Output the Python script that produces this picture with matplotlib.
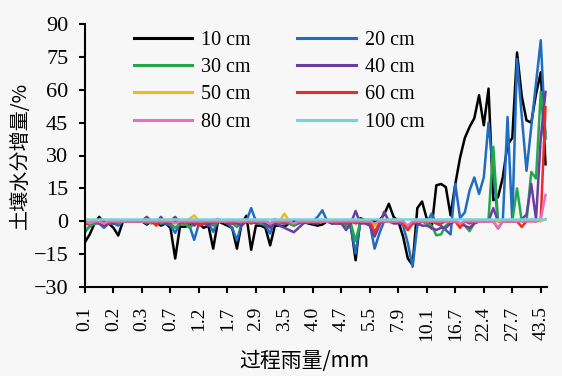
import matplotlib
matplotlib.use("Agg")
import matplotlib.pyplot as plt
import numpy as np

# ---------------- data ----------------
tick_labels = ["0.1", "0.2", "0.3", "0.7", "1.2", "1.7", "2.9", "3.5", "4.0",
               "4.7", "5.5", "7.9", "10.1", "16.7", "22.4", "27.7", "43.5"]

s10 = [-9.5, -6, -1, 2, -1, -1, -3, -6.5, 0, 0,
       0, 0, 0, -1.5, 0, -0.5, -2, -1, -3, -17,
       -2.5, -2.5, -2, -1, -1, -3, -2, -12.5, 0, -1,
       -2, -3, -12.5, -1, 2.5, -13, -2, -2, -3, -11,
       -2, -2, -2.5, -1, 0, -0.5, 0, -1, -1.5, -2,
       -1.5, 0, 0, -0.5, -1, -2, -2, -17.8, 1.4, 0.5,
       0, 0, 0.5, 3, 8, 2, 0, -7, -17, -20,
       6, 9, 1, -3.3, 16.4, 17, 15.6, 2.7, 17, 29,
       38, 43, 47, 57.5, 43.8, 60.5, 9.6, 11, 20, 35,
       38, 77, 57, 46, 45, 58, 68, 26]

s20 = [-5, -2, -1, -1, -3, -1, -1, -2, 0, 0,
       0, 0, 0, -1, 0, 0, -1, -1, -2, -5.3,
       -1, -1, -2, -8.5, -1, 0, -1, -4.8, 0, 0,
       -1, -3, -8.7, -1, 0, 6, 0, -1, -2, -5.6,
       1, -1, -1, -1, -2, -1, 0, -1, 0, 2,
       5, 0, -1, -1, -1, -2, -3, -14.7, 0, 0,
       -1, -12.5, -5.6, 0, 0, 1, 0, -2, -10, -20.8,
       -2, 0, -1, 3.5, -1, -2, -4, -6, 17, 1.5,
       4, 14, 20, 12.5, 20, 45, 22, 0, 0, 47.6,
       0, 74, 48, 23, 43, 63, 82.6, 37.7]

s30 = [-4, -2.5, -1, 0, -1, -1, 0, -1, 0, 0,
       0, 0, 0, 0, -1, 0, -1, 0, -1, -3,
       -1, -1, -3, -1, 0, -1, 0, -2, 0, 0,
       -1, -1, -2.6, 0, 0, -1, 0, -1, -1, -2,
       0, -1, 0, -1, -2, 0, 0, 0, 0, 0,
       0, 0, -1, 0, -1, -2, -1, -9, 0, 0,
       0, -2, 0, 0, 0, 0, 0, -1, -2, -1,
       0, 0, -1, -2, -6.4, -6, -2, 0, 0, -1,
       -2, -4.5, -1, 0, 0, 1, 34, 0, 0, 0,
       0, 15, 0, 0, 22.5, 19.5, 59, 40]

s40 = [-1.4, -1, 0, -1, -2, -1, -1, 0, 0, 0,
       0, 0, 0, 2, 0, -1, 2, -1, 0, 2,
       -1, 0, 1, -2, 0, -1, -2, 0, 1, 0,
       -1, -1, -1, -2, 0, 0, -1, 0, -1, -3,
       -1, -2, -3, -4, -5, -3, -1, 0, -1, -1,
       0, 0, -1, -1, -1, -4, -1, 4.7, -1, -1,
       -2, -7, -2, 4.3, 0, -1, -1, -1, -2, -1,
       -1, -2, -2, -3, -4, -3, -3, -1, 0, -1,
       -2, -3, -1, 0, 0, 0, 6, 0, 0, 0,
       0, 0, 1, 3, 17, 1, 38, 59]

s50 = [0, 0, 0, 0, -1, 0, 0, 0, 0, 0,
       0, 0, 0, 0, 0, 0, 0, 1, 0, 0,
       0, 0, 1, 2.7, 0, 0, 0, 0, 0, 0,
       0, 0, 0, 0, 0, 0, 0, 0, 0, -1,
       0, 0, 3.5, 0, -1, 0, 0, 0, 0, 0,
       0, 0, 0, 0, 0, 0, 0, 0, 0, 0,
       0, -2, 0, 0, 0, 0, 0, -1, -4, -1,
       0, 0, 0, 0, 0, 0, 0, 0, 0, -2,
       0, 0, 0, 0, 0, 0, 0, 0, 0, 0,
       0, 0, 0, 0, 1, 0, 0, 1]

s60 = [-1, -1, 0, -1, 0, -1, 0, 0, 0, 0,
       0, 0, 0, 0, 0, -2, 0, 0, -1, 0,
       -1, 0, -1, 0, -2, -1, 0, -1, 0, 0,
       0, -1, 0, 0, 0, -1, 0, 0, 0, -1,
       0, 0, -1, 0, -1, 0, 0, 0, 0, 0,
       0, 0, 0, -1, 0, -1, 0, -1, 0, 0,
       0, -5, -1, 0, 0, 0, 0, -1, -4, -1,
       0, 0, 0, 0, -1, -1, 0, 0, 0, -3,
       0, -1, 0, 0, 0, 0, 0, -3.3, 0, 0,
       0, 0, -2.6, 0, 0, 0, 1, 52]

s80 = [0, -1, 0, 0, -1, 0, 0, 0, 0, 0,
       0, 0, 0, 0, 0, 0, 0, 0, 0, -1,
       0, 0, 0, 0, 0, 0, 0, 0, 0, 0,
       0, 0, 0, 0, 0, 0, 0, 0, 0, -1,
       0, 0, 0, 0, -1, 0, 0, 0, 0, 0,
       0, 0, 0, 0, 0, 0, 0, 0, 0, 0,
       0, -1, 0, 0, 0, 0, 0, 0, -2, 0,
       0, 0, 0, 0, 0, 0, 0, 0, 0, -1,
       0, 0, 0, 0, 0, 0, 0, -3, 0, 0,
       0, 0, 0, 0, 0, 0, 1, 12]

s100 = [1, 1, 1, 1, 1, 1, 1, 1, 1, 1,
        1, 1, 1, 1, 1, 1, 1, 1, 1, 1,
        1, 1, 1, 1, 1, 1, 1, 1, 1, 1,
        1, 1, 1, 1, 1, 1, 1, 1, 1, 1,
        1, 1, 1, 1, 1, 1, 1, 1, 1, 1,
        1, 1, 1, 1, 1, 1, 1, 1, 1, 1,
        1, 1, 1, 1, 1, 1, 1, 1, 1, 1,
        1, 1, 1, 1, 1, 1, 1, 1, 1, 1,
        1, 1, 1, 1, 1, 1, 1, 1, 1, 1,
        1, 1, 1, 1, 1, 1, 1, 1]

series_names = ["10 cm", "20 cm", "30 cm", "40 cm", "50 cm", "60 cm", "80 cm", "100 cm"]
series_values = [s10, s20, s30, s40, s50, s60, s80, s100]
colors = ["#000000", "#1f6cc0", "#22a84a", "#6a3ea1", "#f7b718", "#ec2a26", "#e46fc4", "#74d4de"]

# ---------------- plot ----------------
BG = "#f7f7f7"
fig = plt.figure(figsize=(5.62, 3.76), dpi=100, facecolor=BG)
ax = fig.add_axes([85 / 562, 1 - 287 / 376, (546.7 - 85) / 562, (287 - 24) / 376])
ax.set_facecolor(BG)

handles = []
for name, vals, c in zip(series_names, series_values, colors):
    x = np.arange(len(vals))
    h, = ax.plot(x, vals, color=c, lw=1.8, label=name)
    handles.append(h)

n = len(s10)
ax.set_xlim(0, n - 1 + 0.25)
ax.set_ylim(-30, 90)
ax.set_yticks(np.arange(-30, 91, 15))
ax.set_xticks(np.arange(0, len(tick_labels) * 6, 6))
ax.set_xticklabels(tick_labels, rotation=90)

serif = ["Liberation Serif", "DejaVu Serif"]
for lab in ax.get_yticklabels():
    lab.set_fontfamily(serif)
    lab.set_fontsize(16)
for lab in ax.get_xticklabels():
    lab.set_fontfamily(serif)
    lab.set_fontsize(14)

ax.spines["top"].set_visible(False)
ax.spines["right"].set_visible(False)
for sp in ("left", "bottom"):
    ax.spines[sp].set_linewidth(1.5)
ax.tick_params(axis="both", direction="out", length=4, width=1.5, color="black")
ax.tick_params(axis="y", pad=8)
ax.tick_params(axis="x", pad=10)

cjk = ["Noto Sans CJK SC", "DejaVu Sans"]
fig.text(20 / 562, 1 - 155 / 376, "土壤水分增量/%", rotation=90, ha="center", va="center",
         fontsize=14.5, family=cjk)
fig.text(304 / 562, 1 - 361 / 376, "过程雨量/mm", ha="center", va="center",
         fontsize=15, family=cjk)

# row-major legend order (10,20 / 30,40 / 50,60 / 80,100)
order = [0, 2, 4, 6, 1, 3, 5, 7]
leg = ax.legend([handles[i] for i in order], [series_names[i] for i in order],
                ncol=2, loc="upper left", bbox_to_anchor=(134 / 562, 1 - 31 / 376),
                bbox_transform=fig.transFigure, frameon=False, borderaxespad=0, borderpad=0,
                handlelength=2.9, handletextpad=0.45, columnspacing=2.3, labelspacing=0.4,
                prop={"family": serif, "size": 14.5})
for lh in leg.get_lines():
    lh.set_linewidth(2.2)

fig.savefig("out.png", dpi=100, facecolor=BG)
